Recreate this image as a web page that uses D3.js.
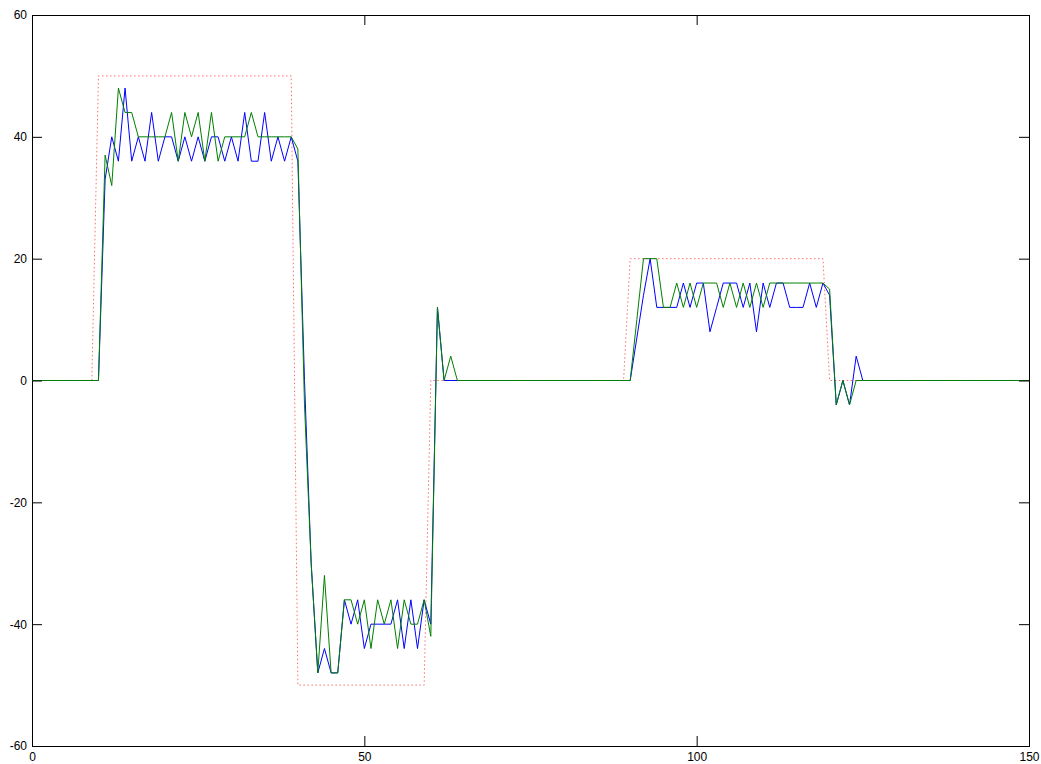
<!DOCTYPE html>
<html>
<head>
<meta charset="utf-8">
<script src="https://cdn.jsdelivr.net/npm/d3@7"></script>
<style>
  body { margin: 0; background: #fff; }
  .tick text { font-family: "Liberation Sans", Arial, sans-serif; font-size: 12px; fill: #000; }
</style>
</head>
<body>
<script>
// sample index 0..150
var xs = d3.range(0, 151);

// reference (red dotted)
var reference = [
  0,0,0,0,0,0,0,0,0,0,
  50,50,50,50,50,50,50,50,50,50,50,50,50,50,50,50,50,50,50,50,50,50,50,50,50,50,50,50,50,50,
  -50,-50,-50,-50,-50,-50,-50,-50,-50,-50,-50,-50,-50,-50,-50,-50,-50,-50,-50,-50,
  0,0,0,0,0,0,0,0,0,0,0,0,0,0,0,0,0,0,0,0,0,0,0,0,0,0,0,0,0,0,
  20,20,20,20,20,20,20,20,20,20,20,20,20,20,20,20,20,20,20,20,20,20,20,20,20,20,20,20,20,20,
  0,0,0,0,0,0,0,0,0,0,0,0,0,0,0,0,0,0,0,0,0,0,0,0,0,0,0,0,0,0,0
];

// blue series
var blueSeries = [
  0,0,0,0,0,0,0,0,0,0,
  0,33,40,36,48,36,40,36,44,36,
  40,40,36,40,36,40,36,40,40,36,
  40,36,44,36,36,44,36,40,36,40,
  36,0,-30,-48,-44,-48,-48,-36,-40,-36,
  -44,-40,-40,-40,-40,-36,-44,-36,-44,-36,
  -40,12,0,0,0,0,0,0,0,0,
  0,0,0,0,0,0,0,0,0,0,
  0,0,0,0,0,0,0,0,0,0,
  0,7,14,20,12,12,12,12,16,12,
  16,16,8,12,16,16,16,12,16,8,
  16,12,16,16,12,12,12,16,12,16,
  14,-4,0,-4,4,0,0,0,0,0,
  0,0,0,0,0,0,0,0,0,0,
  0,0,0,0,0,0,0,0,0,0,
  0
];

// green series
var greenSeries = [
  0,0,0,0,0,0,0,0,0,0,
  0,37,32,48,44,44,40,40,40,40,
  40,44,36,44,40,44,36,44,36,40,
  40,40,40,44,40,40,40,40,40,40,
  38,-4,-30,-48,-32,-48,-48,-36,-36,-40,
  -36,-44,-36,-40,-36,-44,-36,-40,-40,-36,
  -42,12,0,4,0,0,0,0,0,0,
  0,0,0,0,0,0,0,0,0,0,
  0,0,0,0,0,0,0,0,0,0,
  0,10,20,20,20,12,12,16,12,16,
  12,16,16,16,12,16,12,16,12,16,
  12,16,16,16,16,16,16,16,16,16,
  15,-4,0,-4,0,0,0,0,0,0,
  0,0,0,0,0,0,0,0,0,0,
  0,0,0,0,0,0,0,0,0,0,
  0
];

var xTicks = [0, 50, 100, 150];
var yTicks = [-60, -40, -20, 0, 20, 40, 60];

var width = 1041,
  height = 764,
  margin = { top: 15, right: 12, bottom: 18, left: 32 },
  innerWidth = width - margin.left - margin.right,
  innerHeight = height - margin.top - margin.bottom;

var svg = d3
  .select("body")
  .append("svg")
  .attr("width", width)
  .attr("height", height);

var g = svg
  .append("g")
  .attr("transform", "translate(" + margin.left + "," + margin.top + ")");

var xScale = d3.scaleLinear().domain([0, 150]).range([0, innerWidth]);
var yScale = d3.scaleLinear().domain([-60, 60]).range([innerHeight, 0]);

var line = d3
  .line()
  .x((d) => xScale(d[0]))
  .y((d) => yScale(d[1]));

function pairs(values) {
  return xs.map((x, i) => [x, values[i]]);
}

// plain hyphen minus like the original
var fmt = (d) => String(d);

// box
g.append("rect")
  .attr("x", 0.5)
  .attr("y", 0.5)
  .attr("width", innerWidth)
  .attr("height", innerHeight)
  .attr("fill", "none")
  .attr("stroke", "#000")
  .attr("stroke-width", 1);

// lines: reference, blue, green
g.append("path")
  .attr("d", line(pairs(reference)))
  .attr("fill", "none")
  .attr("stroke", "#ff3b3b")
  .attr("stroke-opacity", 0.75)
  .attr("stroke-width", 1)
  .attr("stroke-dasharray", "1.5,2.5");

g.append("path")
  .attr("d", line(pairs(blueSeries)))
  .attr("fill", "none")
  .attr("stroke", "#0000ff")
  .attr("stroke-width", 1);

g.append("path")
  .attr("d", line(pairs(greenSeries)))
  .attr("fill", "none")
  .attr("stroke", "#008000")
  .attr("stroke-width", 1);

// axes, ticks pointing inwards (both sides)
var tickLen = 10;

g.append("g")
  .attr("transform", "translate(0," + innerHeight + ")")
  .call(d3.axisBottom(xScale).tickValues(xTicks).tickFormat(fmt).tickSizeInner(-tickLen).tickSizeOuter(0).tickPadding(6))
  .call((ax) => ax.select(".domain").remove());

g.append("g")
  .call(d3.axisTop(xScale).tickValues(xTicks).tickSizeInner(-tickLen).tickSizeOuter(0).tickFormat(""))
  .call((ax) => ax.select(".domain").remove());

g.append("g")
  .call(d3.axisLeft(yScale).tickValues(yTicks).tickFormat(fmt).tickSizeInner(-tickLen).tickSizeOuter(0).tickPadding(5))
  .call((ax) => ax.select(".domain").remove());

g.append("g")
  .attr("transform", "translate(" + innerWidth + ",0)")
  .call(d3.axisRight(yScale).tickValues(yTicks).tickSizeInner(-tickLen).tickSizeOuter(0).tickFormat(""))
  .call((ax) => ax.select(".domain").remove());
</script>
</body>
</html>
